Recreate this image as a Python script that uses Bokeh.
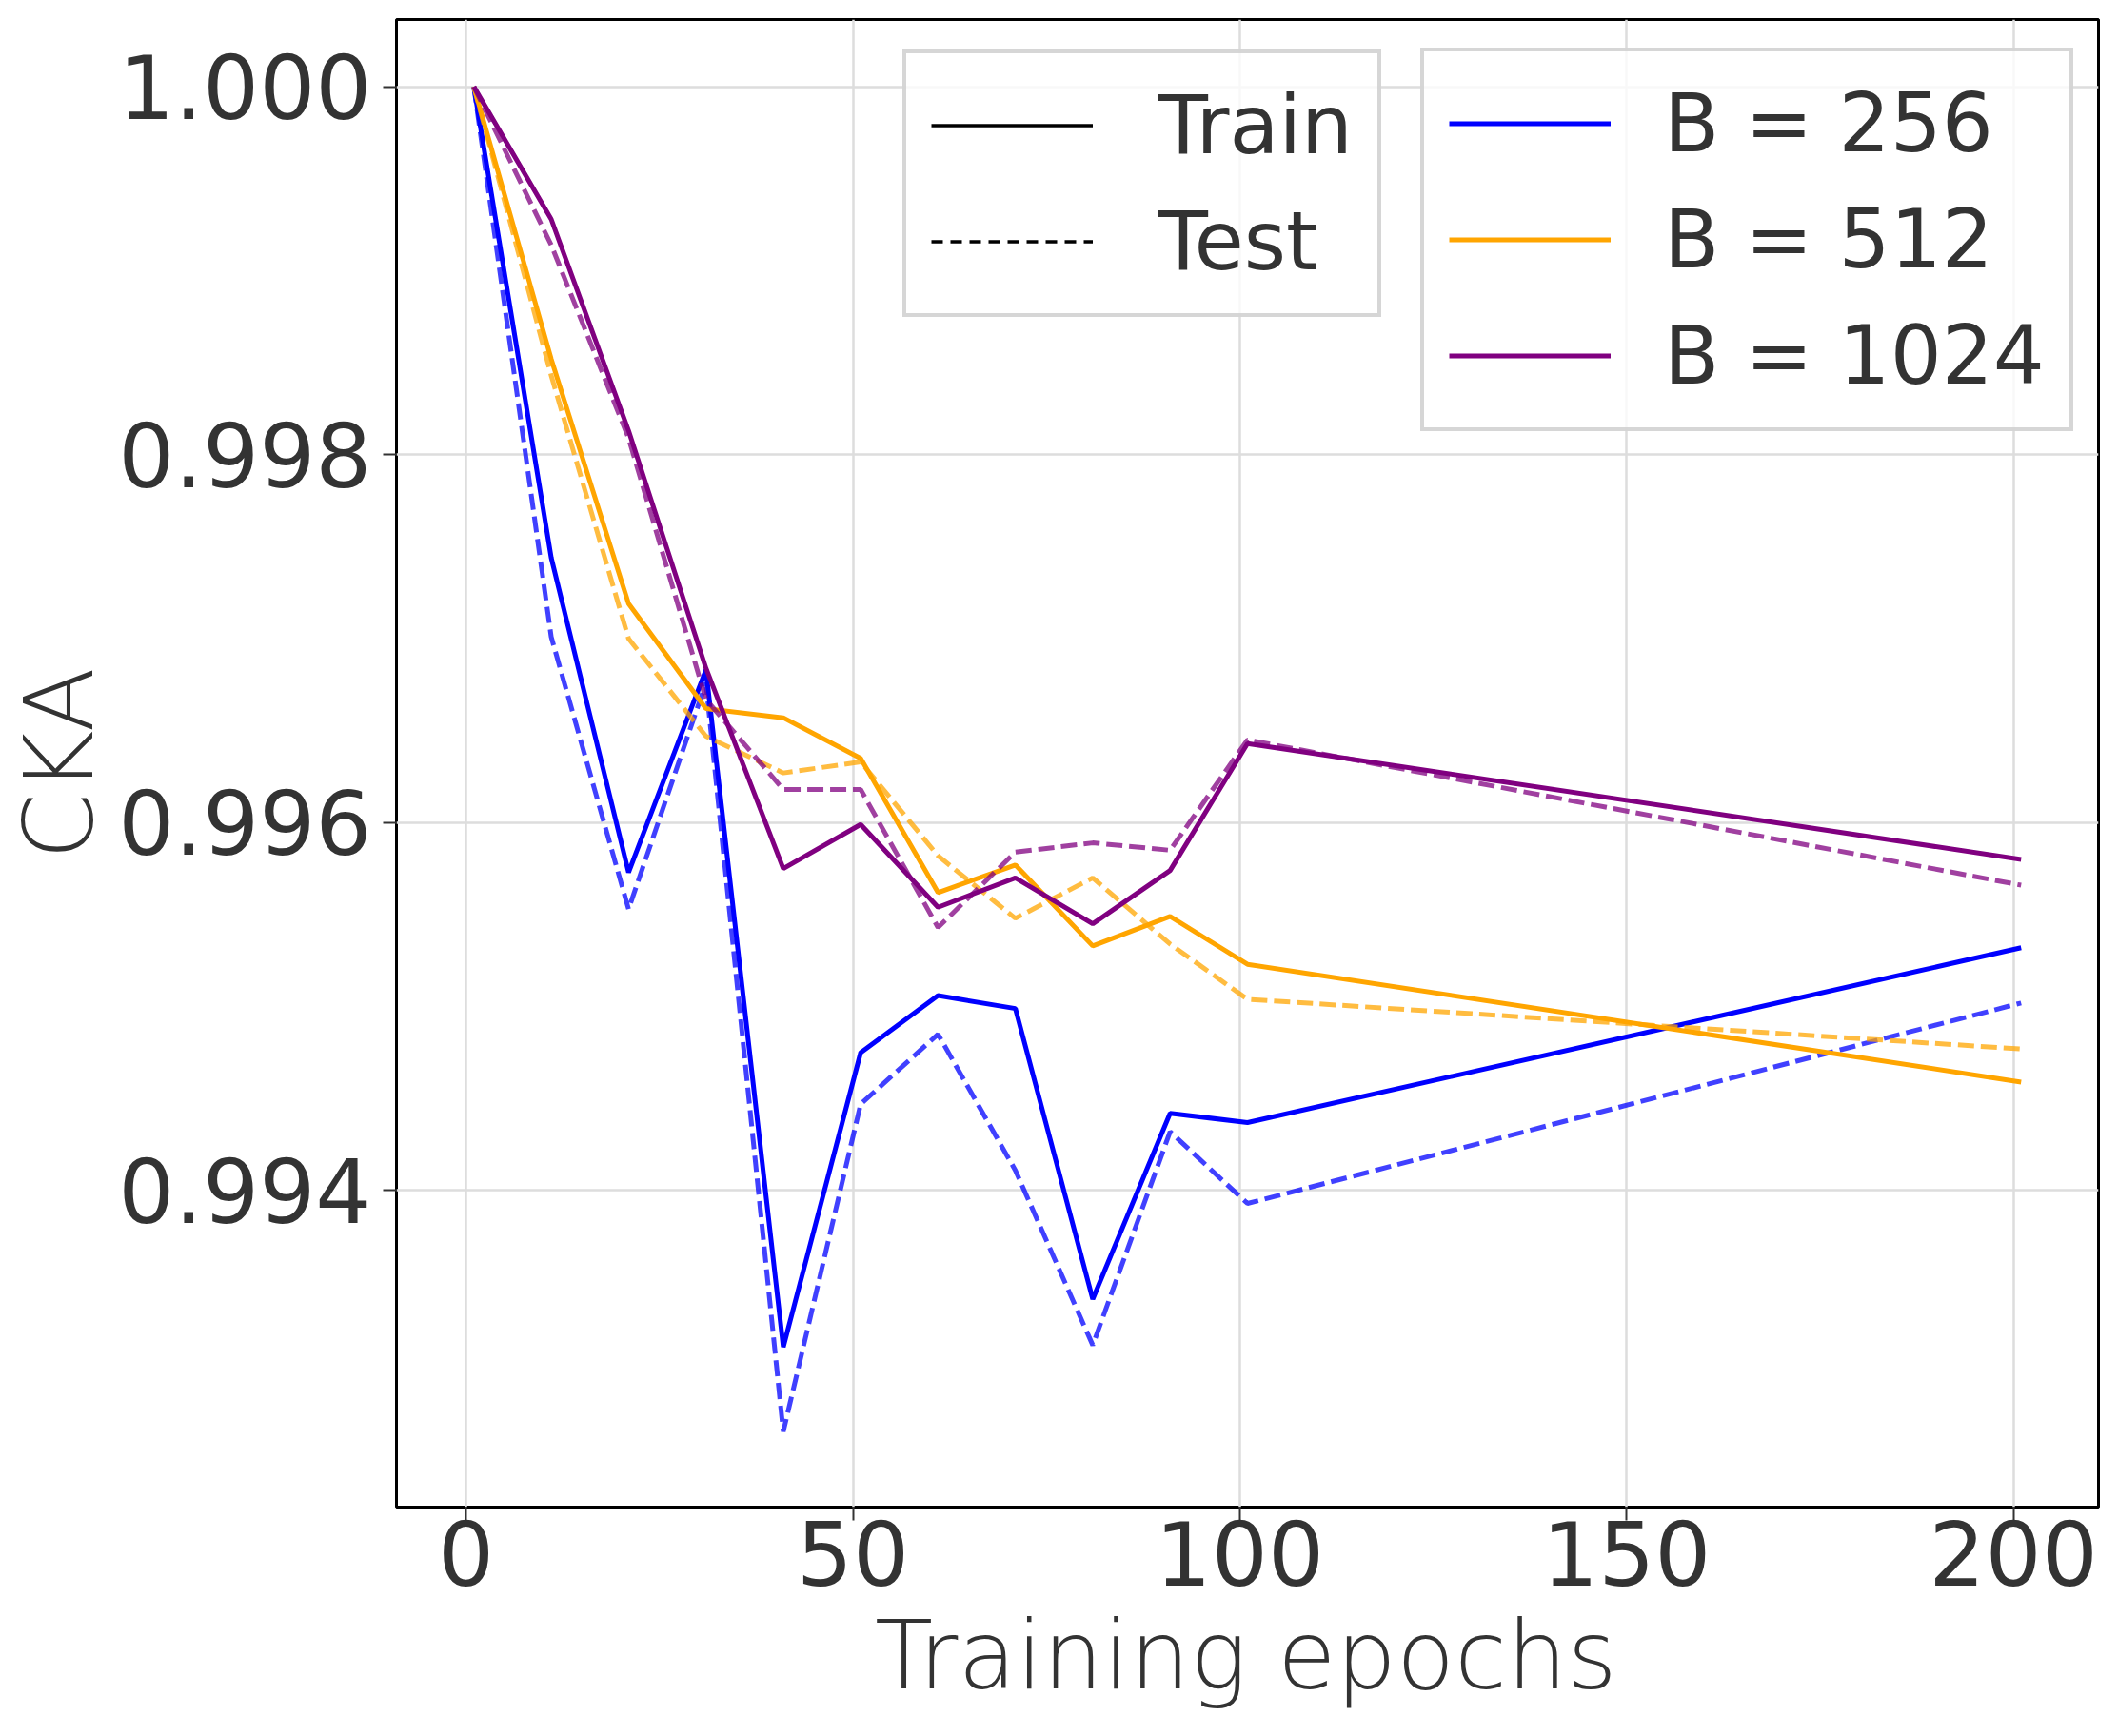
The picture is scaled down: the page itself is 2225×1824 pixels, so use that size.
from bokeh.plotting import figure
from bokeh.models import Range1d, FixedTicker, PrintfTickFormatter, Legend, LegendItem
from bokeh.embed import file_html
from bokeh.resources import INLINE

# ---- data ----
epochs = [1, 11, 21, 31, 41, 51, 61, 71, 81, 91, 101, 201]

b256_train = [1.0, 0.99744, 0.99573, 0.99683, 0.99315, 0.99475, 0.99506, 0.99499, 0.99341, 0.99442, 0.99437, 0.99532]
b256_test = [1.0, 0.99701, 0.99553, 0.99676, 0.99269, 0.99447, 0.99485, 0.99411, 0.99316, 0.99432, 0.99393, 0.99502]

b512_train = [1.0, 0.99852, 0.99719, 0.99662, 0.99657, 0.99635, 0.99562, 0.99577, 0.99533, 0.99549, 0.99523, 0.99459]
b512_test = [1.0, 0.99843, 0.99700, 0.99647, 0.99627, 0.99633, 0.99582, 0.99548, 0.99570, 0.99534, 0.99504, 0.99477]

b1024_train = [1.0, 0.99928, 0.99813, 0.99684, 0.99575, 0.99599, 0.99554, 0.99570, 0.99545, 0.99574, 0.99643, 0.99580]
b1024_test = [1.0, 0.99914, 0.99809, 0.99667, 0.99618, 0.99618, 0.99543, 0.99584, 0.99589, 0.99585, 0.99645, 0.99566]

series_labels = ["B = 256", "B = 512", "B = 1024"]
series_colors = ["blue", "orange", "purple"]
style_labels = ["Train", "Test"]
x_ticks = [0, 50, 100, 150, 200]
y_ticks = [0.994, 0.996, 0.998, 1.000]

FONT = "DejaVu Sans"
TXT = "#333333"

p = figure(width=2222, height=1820,
           x_range=Range1d(-9.0, 211.0), y_range=Range1d(0.99228, 1.000365),
           output_backend="svg", toolbar_location=None,
           min_border_left=416, min_border_right=18,
           min_border_top=20, min_border_bottom=237)

p.background_fill_color = "white"
p.border_fill_color = "white"
p.outline_line_color = "black"
p.outline_line_width = 3
p.outline_line_alpha = 1.0

p.xaxis.ticker = FixedTicker(ticks=x_ticks)
p.yaxis.ticker = FixedTicker(ticks=y_ticks)
p.yaxis.formatter = PrintfTickFormatter(format="%.3f")

for ax in (p.xaxis[0], p.yaxis[0]):
    ax.axis_line_color = None
    ax.major_tick_line_color = TXT
    ax.major_tick_line_width = 2
    ax.major_tick_out = 14
    ax.major_tick_in = 0
    ax.minor_tick_line_color = None
    ax.major_label_text_font = FONT
    ax.major_label_text_font_size = "93px"
    ax.major_label_text_color = TXT
    ax.axis_label_text_font = FONT
    ax.axis_label_text_font_size = "100px"
    ax.axis_label_text_color = TXT
    ax.axis_label_text_font_style = "normal"

p.xaxis.axis_label = "Training epochs"
p.yaxis.axis_label = "CKA"
p.xaxis.major_label_standoff = 0
p.yaxis.major_label_standoff = 12
p.xaxis.axis_label_standoff = 12
p.yaxis.axis_label_standoff = 0

p.grid.grid_line_color = "#dddddd"
p.grid.grid_line_width = 2.5

series = [(b256_train, b256_test), (b512_train, b512_test), (b1024_train, b1024_test)]
color_renderers = []
for (tr, te), col in zip(series, series_colors):
    r1 = p.line(epochs, tr, line_color=col, line_width=5)
    p.line(epochs, te, line_color=col, line_width=5, line_alpha=0.75, line_dash="17 7")
    color_renderers.append(r1)

# legend-only handles (single point -> nothing visible in the plot)
r_train = p.line(x=[epochs[0]], y=[b256_train[0]], line_color="black", line_width=3.5)
r_test = p.line(x=[epochs[0]], y=[b256_train[0]], line_color="black", line_width=3.5, line_dash="12 8")

def style_legend(leg, standoff):
    leg.label_text_font = FONT
    leg.label_text_font_size = "85px"
    leg.label_text_color = TXT
    leg.glyph_width = 170
    leg.glyph_height = 97
    leg.label_height = 97
    leg.label_standoff = standoff
    leg.spacing = 23
    leg.padding = 26
    leg.margin = 0
    leg.border_line_color = "#cccccc"
    leg.border_line_width = 4
    leg.border_line_alpha = 0.8
    leg.background_fill_color = "white"
    leg.background_fill_alpha = 0.8

leg1 = Legend(items=[LegendItem(label=lab, renderers=[r]) for lab, r in zip(style_labels, [r_train, r_test])],
              location=(532, 1250))
leg2 = Legend(items=[LegendItem(label=lab, renderers=[r]) for lab, r in zip(series_labels, color_renderers)],
              location=(1076, 1130))
style_legend(leg1, 69)
style_legend(leg2, 56)
p.add_layout(leg1)
p.add_layout(leg2)

open("out.html", "w").write(file_html(p, INLINE))
